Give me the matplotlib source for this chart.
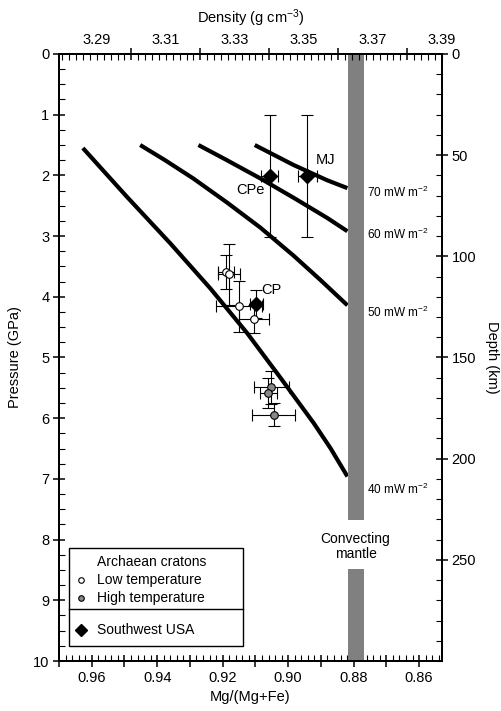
import matplotlib.pyplot as plt
from matplotlib.ticker import MultipleLocator, FixedLocator, FuncFormatter, NullFormatter
from matplotlib.patches import Rectangle
from matplotlib.lines import Line2D

plt.rcParams['font.family'] = ['Liberation Sans', 'DejaVu Sans']
plt.rcParams['mathtext.fontset'] = 'custom'
plt.rcParams['mathtext.rm'] = 'Liberation Sans'
plt.rcParams['mathtext.default'] = 'regular'

# geotherms: Mg/(Mg+Fe) vs pressure (GPa) for each surface heat flow
hf_labels = ['40 mW m$^{-2}$', '50 mW m$^{-2}$', '60 mW m$^{-2}$', '70 mW m$^{-2}$']
mg_40 = [0.9627, 0.9493, 0.9360, 0.9238, 0.9125, 0.9024, 0.8922, 0.8870, 0.8819]
p_40 = [1.55, 2.35, 3.12, 3.86, 4.60, 5.33, 6.08, 6.50, 6.96]
mg_50 = [0.9452, 0.9376, 0.9290, 0.9186, 0.9085, 0.8984, 0.8902, 0.8819]
p_50 = [1.50, 1.75, 2.05, 2.45, 2.86, 3.32, 3.72, 4.14]
mg_60 = [0.9274, 0.9187, 0.9085, 0.8983, 0.8881, 0.8819]
p_60 = [1.50, 1.75, 2.05, 2.37, 2.70, 2.92]
mg_70 = [0.9102, 0.8983, 0.8881, 0.8819]
p_70 = [1.50, 1.83, 2.08, 2.21]

# Archaean cratons, low temperature
low_mg = [0.9190, 0.9180, 0.9151, 0.9105]
low_p = [3.59, 3.63, 4.16, 4.37]
low_xerr = [0.0025, 0.0033, 0.0070, 0.0046]
low_yerr = [0.28, 0.50, 0.42, 0.23]

# Archaean cratons, high temperature
high_mg = [0.9051, 0.9061, 0.9044]
high_p = [5.49, 5.58, 5.94]
high_xerr = [0.0053, 0.0026, 0.0065]
high_yerr = [0.27, 0.25, 0.19]

# Southwest USA
sw_names = ['CPe', 'MJ', 'CP']
sw_mg = [0.9056, 0.8942, 0.9097]
sw_p = [2.01, 2.01, 4.12]
sw_xerr = [0.0026, 0.0029, 0.0020]
sw_yerr = [1.0, 1.0, 0.23]

# convecting mantle band
mantle_mg = 0.8794
mantle_width = 0.0049
mantle_bottoms = [0.0, 8.49]
mantle_tops = [7.68, 10.0]


def hundredth(v):
    # True when v sits on a 0.01 step
    return abs(v * 100 - round(v * 100)) < 0.01


fig = plt.figure(figsize=(5.02, 7.11), dpi=100)
ax = fig.add_axes([0.1175, 0.0703, 0.763, 0.8538])

# grey bar for convecting mantle
for b, t in zip(mantle_bottoms, mantle_tops):
    ax.bar(mantle_mg, t - b, bottom=b, width=mantle_width, color='#808080', zorder=3)
ax.text(mantle_mg, 8.11, 'Convecting\nmantle', ha='center', va='center', fontsize=10, linespacing=1.1)

# geotherms, labels sit just right of the bar
curves = [(mg_40, p_40), (mg_50, p_50), (mg_60, p_60), (mg_70, p_70)]
label_p = [7.17, 4.25, 2.98, 2.28]
for (mg, p), lab, lp in zip(curves, hf_labels, label_p):
    ax.plot(mg, p, color='black', lw=3.0, solid_capstyle='butt', solid_joinstyle='round', zorder=2)
    ax.text(0.8758, lp, lab, ha='left', va='center', fontsize=8.5)

eb = dict(ecolor='black', elinewidth=0.8, capsize=4.5, capthick=0.8, linestyle='none', zorder=4)
ax.errorbar(low_mg, low_p, xerr=low_xerr, yerr=low_yerr, marker='o', ms=5.5,
            mfc='white', mec='black', mew=0.8, **eb)
ax.errorbar(high_mg, high_p, xerr=high_xerr, yerr=high_yerr, marker='o', ms=5.5,
            mfc='#888888', mec='black', mew=0.8, **eb)
ax.errorbar(sw_mg, sw_p, xerr=sw_xerr, yerr=sw_yerr, marker='D', ms=7,
            mfc='black', mec='black', **eb)

offsets = {'CPe': (-14, -10), 'MJ': (13, 11.5), 'CP': (11, 10)}
for name, x, y in zip(sw_names, sw_mg, sw_p):
    ax.annotate(name, (x, y), xytext=offsets[name], textcoords='offset points',
                ha='center', va='center', fontsize=10.5)

ax.set_xlim(0.970, 0.853)
ax.set_ylim(10, 0)
ax.set_xlabel('Mg/(Mg+Fe)', fontsize=10.5, labelpad=4)
ax.set_ylabel('Pressure (GPa)', fontsize=10.5, labelpad=8)

ax.xaxis.set_major_locator(FixedLocator([0.97, 0.96, 0.95, 0.94, 0.93, 0.92, 0.91, 0.90,
                                         0.89, 0.88, 0.87, 0.86]))
ax.xaxis.set_major_formatter(FuncFormatter(
    lambda v, pos: f'{v:.2f}' if round(v * 100) % 2 == 0 and v < 0.965 else ''))
ax.xaxis.set_minor_locator(MultipleLocator(0.002))
ax.yaxis.set_major_locator(MultipleLocator(1))
ax.yaxis.set_minor_locator(MultipleLocator(0.25))

# density on top
axt = ax.twiny()
axt.set_xlim(3.279, 3.3901)
axt.xaxis.set_major_locator(FixedLocator([3.30, 3.32, 3.34, 3.36, 3.38]))
axt.xaxis.set_major_formatter(NullFormatter())
axt.xaxis.set_minor_locator(MultipleLocator(0.002))
axt.xaxis.set_minor_formatter(FuncFormatter(
    lambda v, pos: f'{v:.2f}' if hundredth(v) and round(v * 100) % 2 == 1 else ''))
axt.set_xlabel('Density (g cm$^{-3}$)', fontsize=10.5, labelpad=7)

# depth on right
axr = ax.twinx()
axr.set_ylim(300, 0)
axr.yaxis.set_major_locator(FixedLocator([0, 50, 100, 150, 200, 250]))
axr.yaxis.set_minor_locator(MultipleLocator(10))
axr.set_ylabel('Depth (km)', fontsize=10.5, rotation=270, labelpad=16)

for a in (ax, axt, axr):
    for s in a.spines.values():
        s.set_linewidth(1.3)
    a.tick_params(which='major', direction='inout', length=8, width=1.1, labelsize=10.5, pad=3)
    a.tick_params(which='minor', direction='in', length=4, width=0.8)
axt.tick_params(which='minor', labelsize=10.5, pad=5)
ax.tick_params(top=False, right=False)

# legend box
ax.add_patch(Rectangle((0.026, 0.0247), 0.4545, 0.1615, transform=ax.transAxes,
                       facecolor='white', edgecolor='black', lw=1.0, zorder=5))
ax.add_line(Line2D([0.026, 0.4805], [0.0857, 0.0857], transform=ax.transAxes,
                   color='black', lw=1.0, zorder=6))
ax.text(0.099, 0.163, 'Archaean cratons', transform=ax.transAxes, va='center', fontsize=10, zorder=6)
ax.plot([0.057], [0.1334], marker='o', ms=4, mfc='white', mec='black', mew=0.8,
        transform=ax.transAxes, zorder=6, clip_on=False)
ax.text(0.099, 0.1334, 'Low temperature', transform=ax.transAxes, va='center', fontsize=10, zorder=6)
ax.plot([0.057], [0.1038], marker='o', ms=4, mfc='#888888', mec='black', mew=0.8,
        transform=ax.transAxes, zorder=6, clip_on=False)
ax.text(0.099, 0.1038, 'High temperature', transform=ax.transAxes, va='center', fontsize=10, zorder=6)
ax.plot([0.057], [0.0511], marker='D', ms=6, mfc='black', mec='black',
        transform=ax.transAxes, zorder=6, clip_on=False)
ax.text(0.099, 0.0511, 'Southwest USA', transform=ax.transAxes, va='center', fontsize=10, zorder=6)

plt.savefig('out.png', dpi=100)
